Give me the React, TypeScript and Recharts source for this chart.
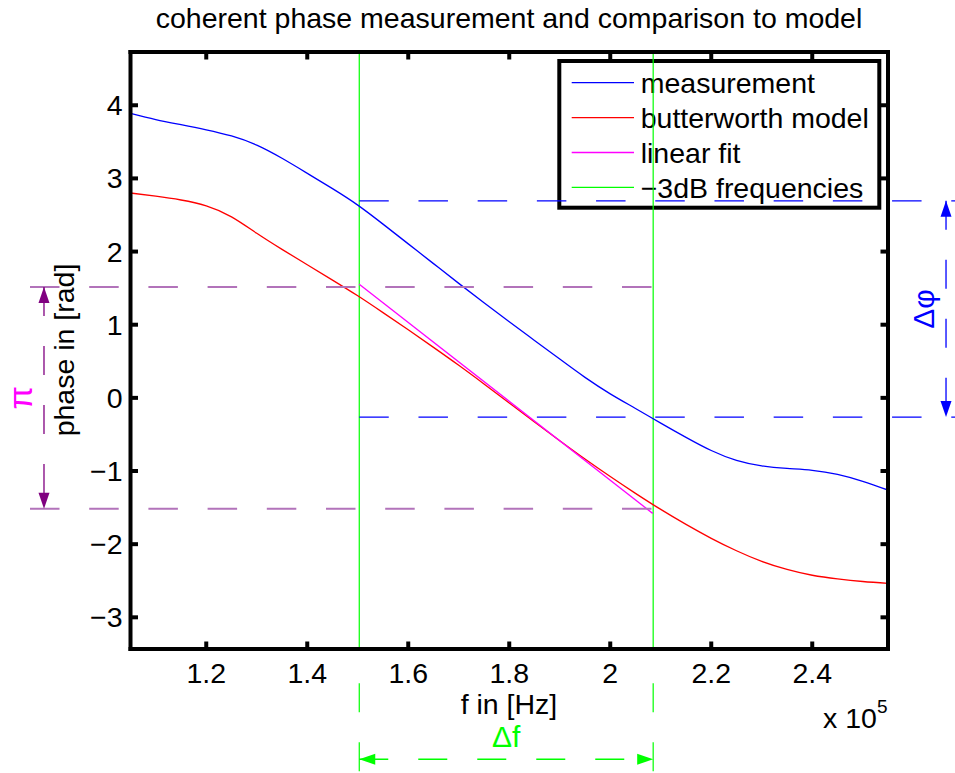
import React from 'react';
import { LineChart, Line, XAxis, YAxis, ReferenceLine, Customized } from 'recharts';

// frequencies in Hz (axis shows them x 10^5)
const freqHz = [
  105000, 110000, 115000, 120000, 125000, 130000, 135000, 140000, 145000, 150000,
  155000, 160000, 165000, 170000, 175000, 180000, 185000, 190000, 195000, 200000,
  205000, 210000, 215000, 220000, 225000, 230000, 235000, 240000, 245000, 250000, 255000,
];
const measurement = [
  3.89, 3.805, 3.735, 3.665, 3.58, 3.455, 3.275, 3.07, 2.86, 2.635,
  2.375, 2.105, 1.835, 1.565, 1.3, 1.04, 0.785, 0.53, 0.28, 0.055,
  -0.145, -0.345, -0.54, -0.72, -0.855, -0.93, -0.965, -0.99, -1.045, -1.14, -1.26,
];
const butterworthModel = [
  2.8, 2.757, 2.705, 2.625, 2.475, 2.25, 2.03, 1.82, 1.61, 1.395,
  1.165, 0.93, 0.69, 0.445, 0.19, -0.07, -0.33, -0.585, -0.835, -1.075,
  -1.305, -1.525, -1.73, -1.92, -2.09, -2.235, -2.345, -2.425, -2.475, -2.51, -2.535,
];
const fitFreqHz = [150300, 208400];
const linearFit = [1.554, -1.579];
const cutoffFreqHz = [150300, 208500];

const xTicks = [120000, 140000, 160000, 180000, 200000, 220000, 240000];
const yTicks = [-3, -2, -1, 0, 1, 2, 3, 4];

// annotation levels (rad)
const piLevels = [1.517, -1.517];
const deltaPhiLevels = [2.693, -0.262];
const deltaFLevels = [-3.9, -5.13, -4.94]; // below the axis: dashed drop, end, arrow

const legendItems = [
  { label: 'measurement', color: '#0000FF' },
  { label: 'butterworth model', color: '#FF0000' },
  { label: 'linear fit', color: '#FF00FF' },
  { label: '\u22123dB frequencies', color: '#00FF00' },
];

const FONT = '"Liberation Sans", Arial, Helvetica, sans-serif';
const FS = 28.5;

const rows = freqHz.map((f, i) => ({ f, measurement: measurement[i], model: butterworthModel[i] }));
const fitRows = fitFreqHz.map((f, i) => ({ f, fit: linearFit[i] }));

const fmtX = (v: number) => String(Math.round(v / 1e4) / 10);
const fmtY = (v: number) => (v < 0 ? '\u2212' + Math.abs(v) : String(v));

const BottomTick = ({ x, y, payload }: any) => (
  <g>
    <line x1={x} y1={y} x2={x} y2={y - 7.5} stroke="#000" strokeWidth={4} />
    <text x={x} y={y + 34} textAnchor="middle" fontSize={FS} fontFamily={FONT} fill="#000">
      {fmtX(payload.value)}
    </text>
  </g>
);
const TopTick = ({ x, y }: any) => (
  <line x1={x} y1={y} x2={x} y2={y + 7.5} stroke="#000" strokeWidth={4} />
);
const LeftTick = ({ x, y, payload }: any) => (
  <g>
    <line x1={x} y1={y} x2={x + 7.5} y2={y} stroke="#000" strokeWidth={4} />
    <text x={x - 8} y={y + 10} textAnchor="end" fontSize={FS} fontFamily={FONT} fill="#000">
      {fmtY(payload.value)}
    </text>
  </g>
);
const RightTick = ({ x, y }: any) => (
  <line x1={x} y1={y} x2={x - 7.5} y2={y} stroke="#000" strokeWidth={4} />
);

// dashed double arrow with a label on its outer side
const arrowShape = (color: string, label: string, labelColor: string, labelSize = 30) => (p: any) => {
  const { x1, y1, x2, y2 } = p;
  const len = Math.hypot(x2 - x1, y2 - y1) || 1;
  const ux = (x2 - x1) / len;
  const uy = (y2 - y1) / len;
  const nx = -uy;
  const ny = ux;
  const L = 16;
  const W = 5.5;
  const head = (tx: number, ty: number, dx: number, dy: number) =>
    `${tx},${ty} ${tx - dx * L + nx * W},${ty - dy * L + ny * W} ${tx - dx * L - nx * W},${ty - dy * L - ny * W}`;
  const mx = (x1 + x2) / 2;
  const my = (y1 + y2) / 2;
  const vertical = Math.abs(uy) > Math.abs(ux);
  return (
    <g>
      <line x1={x1} y1={y1} x2={x2} y2={y2} stroke={color} strokeWidth={1.3} strokeDasharray="29 30" />
      <polygon points={head(x1, y1, -ux, -uy)} fill={color} />
      <polygon points={head(x2, y2, ux, uy)} fill={color} />
      {vertical ? (
        <text transform={`translate(${mx - 12},${my}) rotate(-90)`} textAnchor="middle"
          fontSize={labelSize} fontFamily={FONT} fill={labelColor}>{label}</text>
      ) : (
        <text x={mx} y={my - 12.5} textAnchor="middle" fontSize={labelSize} fontFamily={FONT} fill={labelColor}>{label}</text>
      )}
    </g>
  );
};

const Overlay = () => (
  <g fontFamily={FONT} fill="#000">
    <text x={509} y={28} textAnchor="middle" fontSize={FS}>coherent phase measurement and comparison to model</text>
    <text x={509} y={714} textAnchor="middle" fontSize={FS}>f in [Hz]</text>
    <text transform="translate(74,350) rotate(-90)" textAnchor="middle" fontSize={FS}>phase in [rad]</text>
    <text x={823} y={728} fontSize={FS}>
      x 10<tspan dy={-15} fontSize={19}>5</tspan>
    </text>
    <rect x={559.3} y={61} width={320} height={146.7} fill="#fff" stroke="#000" strokeWidth={4} />
    {legendItems.map((it, i) => {
      const cy = 82.7 + i * 34.9;
      return (
        <g key={it.label}>
          <line x1={571.7} x2={634} y1={cy} y2={cy} stroke={it.color} strokeWidth={1.3} />
          <text x={640.7} y={cy + 10.3} fontSize={FS}>{it.label}</text>
        </g>
      );
    })}
  </g>
);

const X_DOMAIN: [number, number] = [105000, 255000];
const Y_DOMAIN: [number, number] = [-3.433, 4.728];
const axisLine = { stroke: '#000', strokeWidth: 4, strokeLinecap: 'square' as const };

export default function App() {
  return (
    <div style={{ position: 'absolute', left: 0, top: 0, width: 955, height: 773, background: '#fff', fontFamily: FONT }}>
      <LineChart width={955} height={773} data={rows} margin={{ top: 51, right: 66, bottom: 84, left: 50.5 }}>
        <XAxis dataKey="f" type="number" domain={X_DOMAIN} allowDataOverflow ticks={xTicks} interval={0}
          height={40} tickSize={0} tickMargin={0} axisLine={axisLine} tickLine={false} tick={BottomTick} />
        <XAxis xAxisId="top" orientation="top" dataKey="f" type="number" domain={X_DOMAIN} allowDataOverflow
          ticks={xTicks} interval={0} height={1} tickSize={0} tickMargin={0} axisLine={axisLine} tickLine={false} tick={TopTick} />
        <YAxis type="number" domain={Y_DOMAIN} allowDataOverflow ticks={yTicks} interval={0} width={80}
          tickSize={0} tickMargin={0} axisLine={axisLine} tickLine={false} tick={LeftTick} />
        <YAxis yAxisId="right" orientation="right" type="number" domain={Y_DOMAIN} allowDataOverflow ticks={yTicks}
          interval={0} width={1} tickSize={0} tickMargin={0} axisLine={axisLine} tickLine={false} tick={RightTick} />

        {cutoffFreqHz.map((f) => (
          <ReferenceLine key={f} x={f} stroke="#00FF00" strokeWidth={1.2} />
        ))}

        <Line dataKey="measurement" type="natural" stroke="#0000FF" strokeWidth={1.3} dot={false} activeDot={false} isAnimationActive={false} />
        <Line dataKey="model" type="natural" stroke="#FF0000" strokeWidth={1.3} dot={false} activeDot={false} isAnimationActive={false} />
        <Line data={fitRows} dataKey="fit" type="linear" stroke="#FF00FF" strokeWidth={1.3} dot={false} activeDot={false} isAnimationActive={false} />

        <Customized component={Overlay} />

        {/* ±π/2 markers (left) */}
        {piLevels.map((v) => (
          <ReferenceLine key={'pi' + v} ifOverflow="visible" stroke="#B273BA" strokeWidth={2} strokeDasharray="29.5 29.7"
            segment={[{ x: 85100, y: v }, { x: cutoffFreqHz[1], y: v }]} />
        ))}
        <ReferenceLine ifOverflow="visible" stroke="#800080"
          segment={[{ x: 87870, y: piLevels[0] }, { x: 87870, y: piLevels[1] }]}
          shape={arrowShape('#800080', '\u03C0', '#FF00FF', 34)} />

        {/* Δφ markers (right) */}
        {deltaPhiLevels.map((v) => (
          <ReferenceLine key={'dp' + v} ifOverflow="visible" stroke="#0000FF" strokeWidth={1.3} strokeDasharray="29.5 29.7"
            segment={[{ x: cutoffFreqHz[0], y: v }, { x: 268300, y: v }]} />
        ))}
        <ReferenceLine ifOverflow="visible" stroke="#0000FF"
          segment={[{ x: 266490, y: deltaPhiLevels[0] }, { x: 266490, y: deltaPhiLevels[1] }]}
          shape={arrowShape('#0000FF', '\u0394\u03C6', '#0000FF')} />

        {/* Δf markers (below) */}
        {cutoffFreqHz.map((f) => (
          <ReferenceLine key={'df' + f} ifOverflow="visible" stroke="#00FF00" strokeWidth={1.2} strokeDasharray="29 30"
            segment={[{ x: f, y: deltaFLevels[0] }, { x: f, y: deltaFLevels[1] }]} />
        ))}
        <ReferenceLine ifOverflow="visible" stroke="#00FF00"
          segment={[{ x: cutoffFreqHz[0], y: deltaFLevels[2] }, { x: cutoffFreqHz[1], y: deltaFLevels[2] }]}
          shape={arrowShape('#00FF00', '\u0394f', '#00FF00')} />
      </LineChart>
    </div>
  );
}
